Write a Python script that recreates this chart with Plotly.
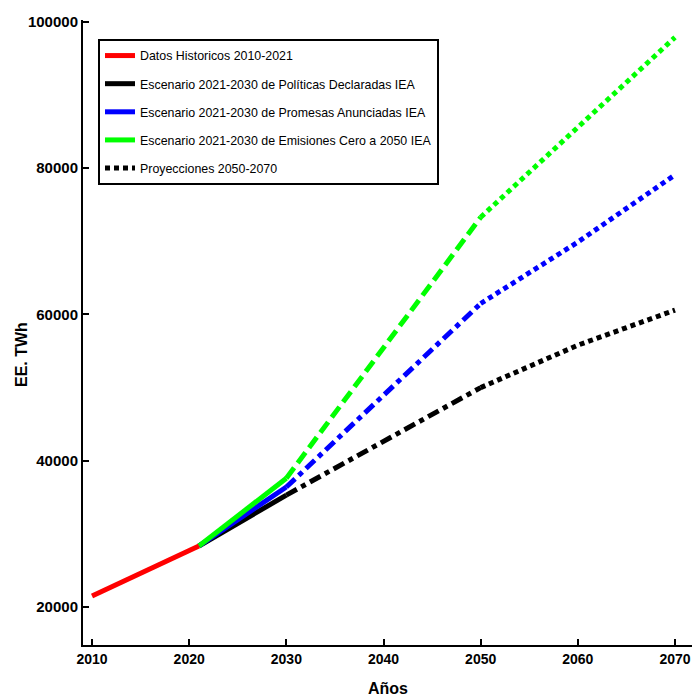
import plotly.graph_objects as go

# ---- data ----
years_hist = [2010, 2021]
hist = [21500, 28340]

years_scen = [2021, 2030]
steps_scen = [28340, 35300]
aps_scen = [28340, 36400]
nze_scen = [28340, 37600]

years_mid = [2030, 2050]
steps_mid = [35300, 50000]
aps_mid = [36400, 61500]
nze_mid = [37600, 73300]

years_proj = [2050, 2060, 2070]
steps_proj = [50000, 55800, 60600]
aps_proj = [61500, 69900, 79100]
nze_proj = [73300, 85500, 97900]

x_ticks = [2010, 2020, 2030, 2040, 2050, 2060, 2070]
y_ticks = [20000, 40000, 60000, 80000, 100000]

RED = "#ff0000"
BLACK = "#000000"
BLUE = "#0000ff"
GREEN = "#00ff00"
FONT = "Liberation Sans Narrow, Arial Narrow, Liberation Sans, Arial, sans-serif"
W = 5

fig = go.Figure()

def add(x, y, color, dash, name=None, show=False, rank=100, group=None):
    fig.add_trace(go.Scatter(
        x=x, y=y, mode="lines", name=name or "",
        line=dict(color=color, width=W, dash=dash),
        showlegend=show, legendrank=rank,
        legendgroup=group, hoverinfo="skip"))

# mid (dashed) segments
add(years_mid, steps_mid, BLACK, "12px,5px,5px,5px")
add(years_mid, aps_mid, BLUE, "12px,5px,5px,5px")
add(years_mid, nze_mid, GREEN, "13px,6px")
# projections (dotted)
add(years_proj, aps_proj, BLUE, "5px,4px")
add(years_proj, nze_proj, GREEN, "5px,4px")
add(years_proj, steps_proj, BLACK, "5px,4px", "Proyecciones 2050-2070", True, 5, "g5")
# scenarios (solid)
add(years_scen, steps_scen, BLACK, "solid", "Escenario 2021-2030 de Políticas Declaradas IEA", True, 2, "g2")
add(years_scen, aps_scen, BLUE, "solid", "Escenario 2021-2030 de Promesas Anunciadas IEA", True, 3, "g3")
add(years_scen, nze_scen, GREEN, "solid", "Escenario 2021-2030 de Emisiones Cero a 2050 IEA", True, 4, "g4")
# historical
add(years_hist, hist, RED, "solid", "Datos Historicos 2010-2021", True, 1, "g1")

PL, PT, PB = 83, 20, 55
PW = 692 - PL
PH = 700 - PT - PB

fig.update_layout(
    width=692, height=700,
    margin=dict(l=PL, r=0, t=PT, b=PB),
    paper_bgcolor="white", plot_bgcolor="white",
    font=dict(family=FONT, color="black"),
    showlegend=True,
    legend=dict(
        x=15 / PW, y=1 - 19 / PH, xanchor="left", yanchor="top",
        bordercolor="black", borderwidth=2, bgcolor="white",
        font=dict(family=FONT, size=12.4, color="black"),
        tracegroupgap=9, traceorder="grouped",
    ),
    xaxis=dict(
        range=[2009.07, 2071.75], tickvals=x_ticks,
        ticktext=[str(v) for v in x_ticks],
        showgrid=False, zeroline=False,
        showline=True, linecolor="black", linewidth=2,
        ticks="inside", ticklen=6, tickwidth=2, tickcolor="black",
        tickfont=dict(family=FONT, size=14, color="black", weight="bold"),
    ),
    yaxis=dict(
        range=[14800, 100270], tickvals=y_ticks,
        ticktext=[str(v) for v in y_ticks],
        showgrid=False, zeroline=False,
        showline=True, linecolor="black", linewidth=2,
        ticks="inside", ticklen=6, tickwidth=2, tickcolor="black",
        tickfont=dict(family=FONT, size=15, color="black", weight="bold"),
    ),
)

# axis titles as annotations
fig.add_annotation(text="Años", xref="paper", yref="paper", x=0.5, y=-(688 - 645) / PH,
                   showarrow=False, font=dict(family=FONT, size=16, weight="bold"),
                   yanchor="middle")
fig.add_annotation(text="EE. TWh", xref="paper", yref="paper",
                   x=-(83 - 21) / PW, y=1 - (355 - 20) / PH, textangle=-90,
                   showarrow=False, font=dict(family=FONT, size=16, weight="bold"),
                   xanchor="center", yanchor="middle")

fig.write_html(
    "out.html",
    config={"displayModeBar": False},
    post_script="document.body.style.margin='0';document.body.style.overflow='hidden';",
)
